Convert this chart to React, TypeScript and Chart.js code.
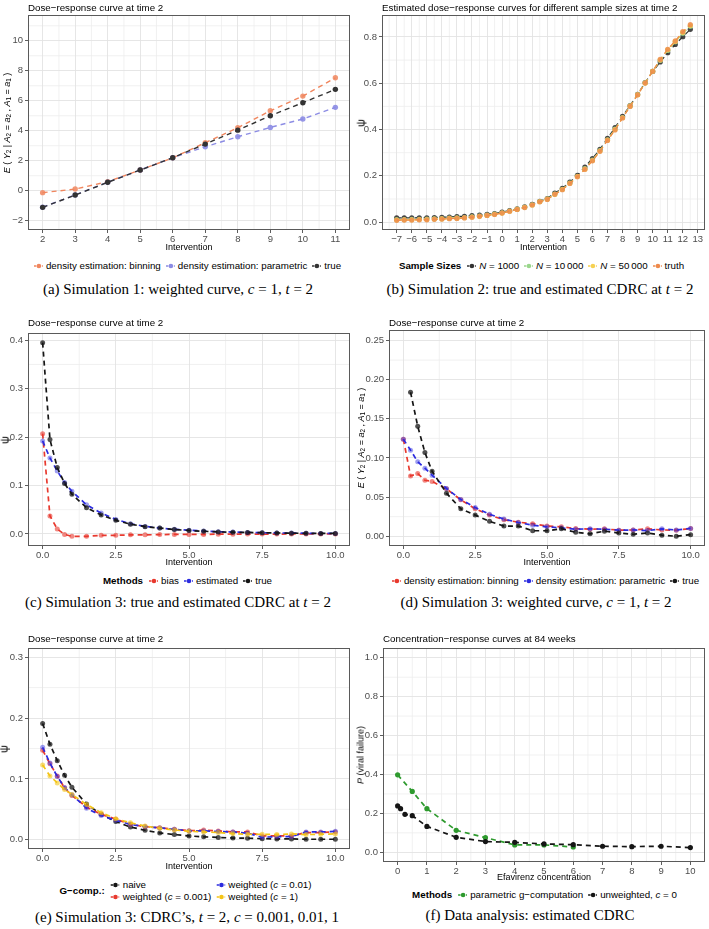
import React, { useEffect, useRef } from "react";
import { Chart, registerables } from "chart.js";
Chart.register(...registerables);

const SANS = "'Liberation Sans', Arial, Helvetica, sans-serif";
const SERIF = "'Liberation Serif', 'Times New Roman', serif";

// ---------------- titles / captions ----------------
const TITLES = [
  "Dose\u2212response curve at time 2",
  "Estimated dose\u2212response curves for different sample sizes at time 2",
  "Dose\u2212response curve at time 2",
  "Dose\u2212response curve at time 2",
  "Dose\u2212response curve at time 2",
  "Concentration\u2212response curves at 84 weeks",
];
const CAPTIONS = [
  "(a) Simulation 1: weighted curve, c = 1, t = 2",
  "(b) Simulation 2: true and estimated CDRC at t = 2",
  "(c) Simulation 3: true and estimated CDRC at t = 2",
  "(d) Simulation 3: weighted curve, c = 1, t = 2",
  "(e) Simulation 3: CDRC\u2019s, t = 2, c = 0.001, 0.01, 1",
  "(f) Data analysis: estimated CDRC",
];
const X_TITLES = ["Intervention", "Intervention", "Intervention", "Intervention", "Intervention", "Efavirenz concentration"];

// ---------------- panel (a) ----------------
const A_X = [2, 3, 4, 5, 6, 7, 8, 9, 10, 11];
const A_BINNING = [-0.13, 0.11, 0.6, 1.38, 2.2, 3.2, 4.2, 5.33, 6.31, 7.53];
const A_PARAMETRIC = [-1.1, -0.28, 0.57, 1.38, 2.2, 2.93, 3.6, 4.22, 4.78, 5.56];
const A_TRUE = [-1.11, -0.29, 0.56, 1.38, 2.2, 3.11, 4.04, 5.0, 5.87, 6.76];
const A_LABELS = ["density estimation: binning", "density estimation: parametric", "true"];
const A_XTICKS = [2, 3, 4, 5, 6, 7, 8, 9, 10, 11];
const A_XTICK_LABELS = ["2", "3", "4", "5", "6", "7", "8", "9", "10", "11"];
const A_YTICKS = [-2, 0, 2, 4, 6, 8, 10];
const A_YTICK_LABELS = ["\u22122", "0", "2", "4", "6", "8", "10"];

// ---------------- panel (b) ----------------
const B_X = [-7, -6.5, -6, -5.5, -5, -4.5, -4, -3.5, -3, -2.5, -2, -1.5, -1, -0.5, 0, 0.5, 1, 1.5, 2, 2.5, 3, 3.5, 4, 4.5, 5, 5.5, 6, 6.5, 7, 7.5, 8, 8.5, 9, 9.5, 10, 10.5, 11, 11.5, 12, 12.5];
const B_N1000 = [0.018, 0.018, 0.018, 0.019, 0.019, 0.02, 0.021, 0.022, 0.024, 0.025, 0.028, 0.03, 0.034, 0.037, 0.043, 0.05, 0.057, 0.066, 0.077, 0.09, 0.102, 0.125, 0.146, 0.173, 0.202, 0.238, 0.275, 0.314, 0.362, 0.408, 0.457, 0.504, 0.552, 0.603, 0.651, 0.692, 0.732, 0.768, 0.801, 0.833];
const B_N10000 = [0.011, 0.011, 0.012, 0.012, 0.013, 0.014, 0.015, 0.017, 0.018, 0.02, 0.023, 0.026, 0.03, 0.035, 0.04, 0.048, 0.056, 0.064, 0.075, 0.089, 0.1, 0.121, 0.142, 0.169, 0.198, 0.231, 0.268, 0.309, 0.356, 0.402, 0.452, 0.502, 0.551, 0.602, 0.652, 0.699, 0.742, 0.779, 0.816, 0.846];
const B_N50000 = [0.009, 0.01, 0.01, 0.011, 0.011, 0.013, 0.014, 0.016, 0.017, 0.019, 0.022, 0.025, 0.029, 0.034, 0.039, 0.047, 0.055, 0.064, 0.074, 0.088, 0.099, 0.12, 0.141, 0.168, 0.197, 0.229, 0.266, 0.307, 0.354, 0.4, 0.451, 0.501, 0.55, 0.601, 0.652, 0.701, 0.745, 0.781, 0.82, 0.85];
const B_TRUTH = [0.008, 0.009, 0.009, 0.01, 0.01, 0.012, 0.013, 0.015, 0.016, 0.018, 0.021, 0.025, 0.029, 0.033, 0.039, 0.047, 0.055, 0.063, 0.074, 0.088, 0.098, 0.12, 0.14, 0.167, 0.196, 0.228, 0.265, 0.306, 0.353, 0.398, 0.45, 0.5, 0.55, 0.601, 0.652, 0.703, 0.747, 0.783, 0.823, 0.853];
const B_LEGEND_TITLE = "Sample Sizes";
const B_LABELS = ["N = 1000", "N = 10\u2009000", "N = 50\u2009000", "truth"];
const B_XTICKS = [-7, -6, -5, -4, -3, -2, -1, 0, 1, 2, 3, 4, 5, 6, 7, 8, 9, 10, 11, 12, 13];
const B_XTICK_LABELS = ["\u22127", "\u22126", "\u22125", "\u22124", "\u22123", "\u22122", "\u22121", "0", "1", "2", "3", "4", "5", "6", "7", "8", "9", "10", "11", "12", "13"];
const B_YTICKS = [0, 0.2, 0.4, 0.6, 0.8];
const B_YTICK_LABELS = ["0.0", "0.2", "0.4", "0.6", "0.8"];

// ---------------- panels (c), (d), (e) share intervention grid ----------------
const S3_X = [0, 0.25, 0.5, 0.75, 1, 1.5, 2, 2.5, 3, 3.5, 4, 4.5, 5, 5.5, 6, 6.5, 7, 7.5, 8, 8.5, 9, 9.5, 10];
const S3_XTICKS = [0, 2.5, 5, 7.5, 10];
const S3_XTICK_LABELS = ["0.0", "2.5", "5.0", "7.5", "10.0"];

const C_BIAS = [0.207, 0.037, 0.01, -0.001, -0.005, -0.005, -0.003, -0.003, -0.002, -0.002, -0.0015, -0.001, -0.001, -0.001, -0.0005, -0.0005, -0.0004, -0.0003, -0.0003, -0.0002, -0.0002, -0.0001, 0];
const C_ESTIMATED = [0.192, 0.157, 0.13, 0.106, 0.088, 0.06, 0.043, 0.03, 0.021, 0.0155, 0.012, 0.0095, 0.0075, 0.006, 0.0045, 0.0038, 0.003, 0.0025, 0.002, 0.0016, 0.0013, 0.001, 0.001];
const C_TRUE = [0.395, 0.195, 0.137, 0.104, 0.082, 0.054, 0.039, 0.028, 0.02, 0.015, 0.012, 0.009, 0.007, 0.0055, 0.004, 0.0035, 0.003, 0.0025, 0.002, 0.0015, 0.0012, 0.001, 0.001];
const C_LEGEND_TITLE = "Methods";
const C_LABELS = ["bias", "estimated", "true"];
const C_YTICKS = [0, 0.1, 0.2, 0.3, 0.4];
const C_YTICK_LABELS = ["0.0", "0.1", "0.2", "0.3", "0.4"];

const D_BINNING = [0.124, 0.077, 0.08, 0.0715, 0.07, 0.0605, 0.0465, 0.035, 0.027, 0.021, 0.018, 0.016, 0.013, 0.012, 0.0098, 0.009, 0.0094, 0.0077, 0.008, 0.0094, 0.008, 0.0077, 0.0098];
const D_PARAMETRIC = [0.124, 0.11, 0.095, 0.087, 0.078, 0.061, 0.047, 0.0366, 0.028, 0.022, 0.0175, 0.014, 0.012, 0.0107, 0.009, 0.0094, 0.009, 0.0077, 0.008, 0.0072, 0.0094, 0.008, 0.01];
const D_TRUE_X = [0.25, 0.5, 0.75, 1, 1.5, 2, 2.5, 3, 3.5, 4, 4.5, 5, 5.5, 6, 6.5, 7, 7.5, 8, 8.5, 9, 9.5, 10];
const D_TRUE = [0.184, 0.1405, 0.107, 0.083, 0.055, 0.035, 0.027, 0.019, 0.013, 0.013, 0.007, 0.007, 0.0095, 0.005, 0.003, 0.0065, 0.004, 0.0025, 0.004, 0.0013, 0.0, 0.002];
const D_LABELS = ["density estimation: binning", "density estimation: parametric", "true"];
const D_YTICKS = [0, 0.05, 0.1, 0.15, 0.2, 0.25];
const D_YTICK_LABELS = ["0.00", "0.05", "0.10", "0.15", "0.20", "0.25"];

const E_NAIVE = [0.191, 0.157, 0.13, 0.106, 0.0864, 0.0587, 0.042, 0.03, 0.021, 0.0158, 0.0114, 0.0087, 0.0065, 0.005, 0.004, 0.003, 0.0027, 0.002, 0.0016, 0.0016, 0.001, 0.001, 0.001];
const E_W0001 = [0.147, 0.125, 0.105, 0.085, 0.073, 0.054, 0.042, 0.034, 0.0255, 0.0217, 0.02, 0.0174, 0.015, 0.016, 0.0147, 0.013, 0.013, 0.0065, 0.0065, 0.0065, 0.012, 0.012, 0.013];
const E_W001 = [0.152, 0.126, 0.104, 0.086, 0.074, 0.052, 0.04, 0.032, 0.0255, 0.0217, 0.0196, 0.0174, 0.0147, 0.0147, 0.0136, 0.013, 0.011, 0.0043, 0.0054, 0.0054, 0.013, 0.013, 0.014];
const E_W1 = [0.123, 0.105, 0.0935, 0.0826, 0.0745, 0.058, 0.0446, 0.0348, 0.028, 0.0228, 0.019, 0.0163, 0.014, 0.013, 0.012, 0.0103, 0.0092, 0.0092, 0.0087, 0.0098, 0.0087, 0.0092, 0.0098];
const E_LEGEND_TITLE = "G\u2212comp.:";
const E_LABELS = ["naive", "weighted (c = 0.001)", "weighted (c = 0.01)", "weighted (c = 1)"];
const E_YTICKS = [0, 0.1, 0.2, 0.3];
const E_YTICK_LABELS = ["0.0", "0.1", "0.2", "0.3"];

// ---------------- panel (f) ----------------
const F_PARAM_X = [0, 0.5, 1, 2, 3, 4, 5, 6];
const F_PARAM = [0.398, 0.313, 0.224, 0.113, 0.075, 0.038, 0.038, 0.027];
const F_UNW_X = [0, 0.1, 0.25, 0.5, 1, 2, 3, 4, 5, 6, 7, 8, 9, 10];
const F_UNW = [0.238, 0.224, 0.195, 0.188, 0.133, 0.077, 0.055, 0.051, 0.043, 0.039, 0.031, 0.029, 0.031, 0.024];
const F_LEGEND_TITLE = "Methods";
const F_LABELS = ["parametric g\u2212computation", "unweighted, c = 0"];
const F_XTICKS = [0, 1, 2, 3, 4, 5, 6, 7, 8, 9, 10];
const F_XTICK_LABELS = ["0", "1", "2", "3", "4", "5", "6", "7", "8", "9", "10"];
const F_YTICKS = [0, 0.2, 0.4, 0.6, 0.8, 1.0];
const F_YTICK_LABELS = ["0.0", "0.2", "0.4", "0.6", "0.8", "1.0"];

// ---------------- colours ----------------
const C_ORANGE = "#F0865E";
const C_LAVENDER = "#8C8CE4";
const C_DARK = "#333333";
const C_RED = "#E8392E";
const C_BLUE = "#2B2BDF";
const C_BLACK = "#151515";
const C_YELLOW = "#F4C416";
const C_GREEN = "#2E9A2E";
const C_LGREEN = "#9AD68C";
const C_LYELLOW = "#F6D152";
const C_TRUTH = "#EE8A4C";

// ---------------- plugins ----------------
const minorGrid = {
  id: "minorGrid",
  beforeDraw(chart: any) {
    const { ctx, chartArea: a } = chart;
    ctx.save();
    ctx.strokeStyle = "#EEEEEE";
    ctx.lineWidth = 0.8;
    ["x", "y"].forEach((id) => {
      const sc = chart.scales[id];
      const vals = sc.ticks.map((t: any) => t.value);
      if (vals.length < 2) return;
      const step = vals[1] - vals[0];
      const mins = [vals[0] - step / 2, ...vals.map((v: number) => v + step / 2)];
      mins.forEach((m: number) => {
        if (m <= sc.min || m >= sc.max) return;
        const p = sc.getPixelForValue(m);
        ctx.beginPath();
        if (id === "x") {
          ctx.moveTo(p, a.top);
          ctx.lineTo(p, a.bottom);
        } else {
          ctx.moveTo(a.left, p);
          ctx.lineTo(a.right, p);
        }
        ctx.stroke();
      });
    });
    ctx.restore();
  },
};

const frame = {
  id: "frame",
  afterDatasetsDraw(chart: any) {
    const { ctx, chartArea: a } = chart;
    ctx.save();
    ctx.strokeStyle = "#5A5A5A";
    ctx.lineWidth = 1;
    ctx.strokeRect(Math.round(a.left) + 0.5, Math.round(a.top) + 0.5, Math.round(a.width) - 1, Math.round(a.height) - 1);
    ctx.restore();
  },
};

function alpha(hex: string, a: number) {
  const n = parseInt(hex.slice(1), 16);
  return `rgba(${(n >> 16) & 255},${(n >> 8) & 255},${n & 255},${a})`;
}

function axisOptions(a: any, horizontal: boolean, size: number) {
  return {
    type: "linear",
    min: a.min,
    max: a.max,
    afterBuildTicks: (sc: any) => {
      sc.ticks = a.ticks.map((v: number) => ({ value: v }));
    },
    afterFit: (sc: any) => {
      if (horizontal) sc.height = size;
      else sc.width = size;
    },
    ticks: {
      callback: (_v: any, i: number) => a.labels[i],
      color: "#4D4D4D",
      font: { family: SANS, size: 9.5 },
      padding: horizontal ? 1 : 2,
      maxRotation: 0,
      minRotation: 0,
      autoSkip: false,
    },
    grid: { color: "#E3E3E3", lineWidth: 0.9, tickColor: "#333333", tickLength: 3, tickWidth: 0.8, drawTicks: true },
    border: { display: false },
    title: { display: !!a.title, text: a.title || "", color: "#000", font: { family: SANS, size: 9 }, padding: 0 },
  };
}

function ChartPanel({ spec }: { spec: any }) {
  const ref = useRef<HTMLCanvasElement>(null);
  useEffect(() => {
    const n = spec.series.length;
    const p = spec.plot;
    const chart = new Chart(ref.current as HTMLCanvasElement, {
      type: "line",
      data: {
        datasets: spec.series.map((s: any, i: number) => ({
          label: s.label,
          data: s.x.map((x: number, j: number) => ({ x, y: s.y[j] })),
          borderColor: s.color,
          backgroundColor: s.point,
          pointBackgroundColor: s.point,
          pointBorderColor: s.point,
          pointBorderWidth: 0,
          pointRadius: spec.pointRadius,
          borderWidth: spec.lineWidth,
          borderDash: [5, 4],
          tension: 0,
          fill: false,
          order: n - i,
        })),
      },
      options: {
        animation: false,
        responsive: false,
        maintainAspectRatio: false,
        events: [],
        layout: { padding: { left: 0, top: p.t, right: spec.width - p.r, bottom: 0 } },
        plugins: { legend: { display: false }, tooltip: { enabled: false }, title: { display: false } },
        scales: {
          x: axisOptions(spec.x, true, spec.height - p.b),
          y: axisOptions(spec.y, false, p.l),
        },
      } as any,
      plugins: [minorGrid, frame],
    });
    return () => chart.destroy();
  }, [spec]);
  return (
    <canvas
      ref={ref}
      width={spec.width}
      height={spec.height}
      style={{ position: "absolute", left: spec.left, top: spec.top, width: spec.width, height: spec.height }}
    />
  );
}

function mathify(s: string) {
  const parts = s.split(/(\b[cNt](?= = ))/);
  return parts.map((p, i) =>
    i % 2 === 1 ? <i key={i}>{p}</i> : <React.Fragment key={i}>{p}</React.Fragment>
  );
}

function Key({ color }: { color: string }) {
  return (
    <svg width={9} height={8} style={{ flex: "none", marginRight: 3 }}>
      <line x1={0} y1={4} x2={9} y2={4} stroke={color} strokeWidth={1.4} strokeDasharray="2.5 1.5" />
      <circle cx={5} cy={4} r={2.3} fill={color} />
    </svg>
  );
}

function Legend({ lg }: { lg: any }) {
  const item = (it: any, i: number) => (
    <div key={i} style={{ display: "flex", alignItems: "center", marginRight: 5, whiteSpace: "nowrap" }}>
      <Key color={it.color} />
      <span>{mathify(it.label)}</span>
    </div>
  );
  const base: any = {
    position: "absolute",
    top: lg.cy,
    left: lg.cx,
    transform: "translate(-50%,-50%)",
    display: "flex",
    alignItems: "center",
    fontFamily: SANS,
    fontSize: 9.75,
    color: "#000",
    lineHeight: "12px",
    whiteSpace: "nowrap",
  };
  return (
    <div style={base}>
      {lg.title ? <span style={{ fontWeight: "bold", marginRight: 6 }}>{lg.title}</span> : null}
      {lg.rows ? (
        <div style={{ display: "grid", gridAutoFlow: "column", gridTemplateRows: `repeat(${lg.rows}, auto)`, rowGap: 0 }}>
          {lg.items.map(item)}
        </div>
      ) : (
        lg.items.map(item)
      )}
    </div>
  );
}

function Text({ left, cy, children, style }: any) {
  return (
    <div style={{ position: "absolute", left, top: cy, transform: "translateY(-50%)", whiteSpace: "nowrap", lineHeight: 1, ...style }}>
      {children}
    </div>
  );
}

function Centered({ cx, cy, children, style }: any) {
  return (
    <div style={{ position: "absolute", left: cx, top: cy, transform: "translate(-50%,-50%)", whiteSpace: "nowrap", lineHeight: 1, ...style }}>
      {children}
    </div>
  );
}

function YTitle({ cx, cy, children }: any) {
  return (
    <div
      style={{
        position: "absolute",
        left: cx,
        top: cy,
        transform: "translate(-50%,-50%) rotate(-90deg)",
        whiteSpace: "nowrap",
        fontFamily: SANS,
        fontSize: 9,
        lineHeight: 1,
        color: "#000",
      }}
    >
      {children}
    </div>
  );
}

const sub = (t: string) => <sub style={{ fontSize: "70%", verticalAlign: "-0.25em", lineHeight: 0 }}>{t}</sub>;
const EXPECT = (
  <span>
    <i>E</i> ( <i>Y</i>{sub("2")} | <i>A</i>{sub("2")} = <i>a</i>{sub("2")} , <i>A</i>{sub("1")} = <i>a</i>{sub("1")} )
  </span>
);
const PSI = <span style={{ fontSize: 11 }}>{"\u03C8"}</span>;
const PVF = (
  <span>
    <i>P</i> (viral failure)
  </span>
);

const ser = (label: string, x: number[], y: number[], color: string, pa = 1) => ({ label, x, y, color, point: alpha(color, pa) });

const PANELS: any[] = [
  {
    left: 0, top: 0, width: 354, height: 253, plot: { l: 28, t: 15, r: 352, b: 230 },
    x: { min: 1.55, max: 11.45, ticks: A_XTICKS, labels: A_XTICK_LABELS, title: X_TITLES[0] },
    y: { min: -2.62, max: 11.72, ticks: A_YTICKS, labels: A_YTICK_LABELS },
    lineWidth: 1.4, pointRadius: 2.7,
    series: [
      ser(A_LABELS[0], A_X, A_BINNING, C_ORANGE, 0.85),
      ser(A_LABELS[1], A_X, A_PARAMETRIC, C_LAVENDER, 0.9),
      ser(A_LABELS[2], A_X, A_TRUE, C_DARK),
    ],
    title: { left: 28, cy: 8 }, yTitle: { cx: 7, node: EXPECT },
    legend: { cx: 190, cy: 266 }, caption: { cx: 178, cy: 289 },
  },
  {
    left: 354, top: 0, width: 355, height: 253, plot: { l: 28, t: 15, r: 352, b: 230 },
    x: { min: -7.975, max: 13.475, ticks: B_XTICKS, labels: B_XTICK_LABELS, title: X_TITLES[1] },
    y: { min: -0.034, max: 0.895, ticks: B_YTICKS, labels: B_YTICK_LABELS },
    lineWidth: 1.3, pointRadius: 2.6,
    series: [
      ser(B_LABELS[0], B_X, B_N1000, C_DARK, 0.9),
      ser(B_LABELS[1], B_X, B_N10000, C_LGREEN, 0.85),
      ser(B_LABELS[2], B_X, B_N50000, C_LYELLOW, 0.85),
      ser(B_LABELS[3], B_X, B_TRUTH, C_TRUTH, 0.8),
    ],
    legendTitle: B_LEGEND_TITLE,
    title: { left: 382, cy: 8 }, yTitle: { cx: 361, node: PSI },
    legend: { cx: 544, cy: 266 }, caption: { cx: 540, cy: 289 },
  },
  {
    left: 0, top: 318, width: 354, height: 250, plot: { l: 28, t: 15, r: 352, b: 228 },
    x: { min: -0.5, max: 10.5, ticks: S3_XTICKS, labels: S3_XTICK_LABELS, title: X_TITLES[2] },
    y: { min: -0.025, max: 0.415, ticks: C_YTICKS, labels: C_YTICK_LABELS },
    lineWidth: 1.7, pointRadius: 2.5,
    series: [
      ser(C_LABELS[0], S3_X, C_BIAS, C_RED, 0.6),
      ser(C_LABELS[1], S3_X, C_ESTIMATED, C_BLUE, 0.45),
      ser(C_LABELS[2], S3_X, C_TRUE, C_BLACK, 0.75),
    ],
    legendTitle: C_LEGEND_TITLE,
    title: { left: 28, cy: 323 }, yTitle: { cx: 5, node: PSI },
    legend: { cx: 190, cy: 581 }, caption: { cx: 178, cy: 602 },
  },
  {
    left: 354, top: 318, width: 355, height: 250, plot: { l: 35, t: 12, r: 352, b: 228 },
    x: { min: -0.5, max: 10.5, ticks: S3_XTICKS, labels: S3_XTICK_LABELS, title: X_TITLES[3] },
    y: { min: -0.0125, max: 0.2635, ticks: D_YTICKS, labels: D_YTICK_LABELS },
    lineWidth: 1.7, pointRadius: 2.5,
    series: [
      ser(D_LABELS[0], S3_X, D_BINNING, C_RED, 0.6),
      ser(D_LABELS[1], S3_X, D_PARAMETRIC, C_BLUE, 0.45),
      ser(D_LABELS[2], D_TRUE_X, D_TRUE, C_BLACK, 0.75),
    ],
    title: { left: 389, cy: 323 }, yTitle: { cx: 361, node: EXPECT },
    legend: { cx: 548, cy: 581 }, caption: { cx: 536, cy: 602 },
  },
  {
    left: 0, top: 633, width: 354, height: 239, plot: { l: 28, t: 15, r: 352, b: 216 },
    x: { min: -0.5, max: 10.5, ticks: S3_XTICKS, labels: S3_XTICK_LABELS, title: X_TITLES[4] },
    y: { min: -0.015, max: 0.315, ticks: E_YTICKS, labels: E_YTICK_LABELS },
    lineWidth: 1.7, pointRadius: 2.5,
    series: [
      ser(E_LABELS[0], S3_X, E_NAIVE, C_BLACK, 0.75),
      ser(E_LABELS[1], S3_X, E_W0001, C_RED, 0.6),
      ser(E_LABELS[2], S3_X, E_W001, C_BLUE, 0.45),
      ser(E_LABELS[3], S3_X, E_W1, C_YELLOW, 0.6),
    ],
    legendTitle: E_LEGEND_TITLE, legendRows: 2,
    title: { left: 28, cy: 639 }, yTitle: { cx: 4, node: PSI },
    legend: { cx: 188, cy: 891 }, caption: { cx: 187, cy: 917 },
  },
  {
    left: 354, top: 633, width: 355, height: 250, plot: { l: 29, t: 15, r: 352, b: 229 },
    x: { min: -0.5, max: 10.5, ticks: F_XTICKS, labels: F_XTICK_LABELS, title: X_TITLES[5] },
    y: { min: -0.05, max: 1.05, ticks: F_YTICKS, labels: F_YTICK_LABELS },
    lineWidth: 1.7, pointRadius: 2.6,
    series: [
      ser(F_LABELS[0], F_PARAM_X, F_PARAM, C_GREEN, 1),
      ser(F_LABELS[1], F_UNW_X, F_UNW, C_BLACK, 1),
    ],
    legendTitle: F_LEGEND_TITLE,
    title: { left: 383, cy: 639 }, yTitle: { cx: 361, node: PVF },
    legend: { cx: 547, cy: 895 }, caption: { cx: 530, cy: 915 },
  },
];

export default function App() {
  return (
    <div style={{ position: "absolute", left: 0, top: 0, width: 709, height: 929, background: "#fff", overflow: "hidden" }}>
      {PANELS.map((p, i) => (
        <React.Fragment key={i}>
          <ChartPanel spec={p} />
          <Text left={p.title.left} cy={p.title.cy} style={{ fontFamily: SANS, fontSize: 9.75, color: "#000" }}>
            {TITLES[i]}
          </Text>
          <YTitle cx={p.yTitle.cx} cy={p.top + (p.plot.t + p.plot.b) / 2}>
            {p.yTitle.node}
          </YTitle>
          <Legend
            lg={{
              cx: p.legend.cx,
              cy: p.legend.cy,
              title: p.legendTitle,
              rows: p.legendRows,
              items: p.series.map((s: any) => ({ label: s.label, color: s.color })),
            }}
          />
          <Centered cx={p.caption.cx} cy={p.caption.cy} style={{ fontFamily: SERIF, fontSize: 15, color: "#000" }}>
            {mathify(CAPTIONS[i])}
          </Centered>
        </React.Fragment>
      ))}
    </div>
  );
}
